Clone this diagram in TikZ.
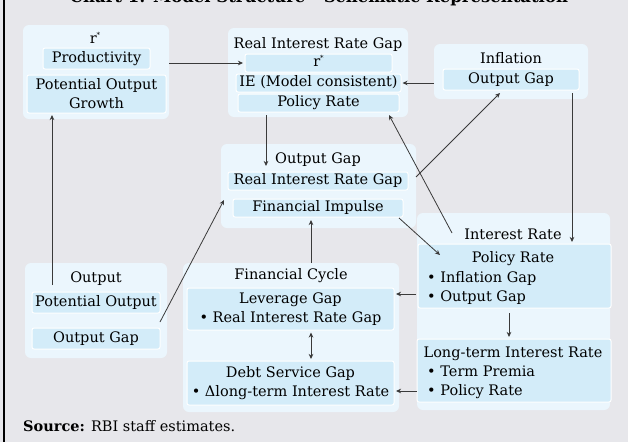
\documentclass[tikz,border=0pt]{standalone}
\usepackage{fontspec}
\setmainfont{DejaVu Serif}
\usetikzlibrary{arrows.meta}
\definecolor{pagebg}{HTML}{E7E7EB}
\definecolor{outerfill}{HTML}{EBF6FD}
\definecolor{innerfill}{HTML}{D3ECF9}
\definecolor{linec}{HTML}{3A3A3A}
\newcommand{\rstar}{r\raisebox{6pt}{\fontsize{7}{7}\selectfont *}}
\tikzset{
  outerbox/.style={fill=outerfill, draw=none, rounded corners=6pt, inner sep=0pt, outer sep=0pt},
  innerbase/.style={fill=innerfill, draw=white, line width=1pt, rounded corners=2pt,
    inner sep=0pt, outer sep=0pt, align=center},
  innerbox/.style={innerbase, text height=10.6pt, text depth=3.4pt},
  innerpair/.style={innerbase},
  lbl/.style={anchor=base, inner sep=0pt},
  lbll/.style={anchor=base west, inner sep=0pt},
  conn/.style={draw=linec, line width=0.8pt, -{Stealth[length=5pt,width=4.5pt,inset=1.5pt]}},
  bothconn/.style={draw=linec, line width=0.8pt, {Stealth[length=5pt,width=4.5pt,inset=1.5pt]}-{Stealth[length=5pt,width=4.5pt,inset=1.5pt]}},
}
\begin{document}
\begin{tikzpicture}[x=1pt, y=-1pt, font=\fontsize{14.5}{19}\selectfont]
\useasboundingbox (0,0) rectangle (628,442);
\clip (0,0) rectangle (628,442);
\fill[pagebg] (0,0) rectangle (628,442);
\draw[line width=1.2pt] (4,0) -- (4,442);

% heading
\node[lbl, font=\bfseries\fontsize{16.5}{20}\selectfont] (title) at (319,2)
  {Chart 1: Model Structure - Schematic Representation};

% group panels
\node[outerbox, minimum width=146pt, minimum height=94pt]  (boxA) at (96,72) {};
\node[outerbox, minimum width=180pt, minimum height=89pt]  (boxB) at (318,72.5) {};
\node[outerbox, minimum width=154pt, minimum height=55pt]  (boxC) at (511,71.5) {};
\node[outerbox, minimum width=195pt, minimum height=84pt]  (boxD) at (318.5,186) {};
\node[outerbox, minimum width=193pt, minimum height=197pt] (boxE) at (513.5,311.5) {};
\node[outerbox, minimum width=142pt, minimum height=95pt]  (boxF) at (96,310.5) {};
\node[outerbox, minimum width=216pt, minimum height=149pt] (boxG) at (291,337.5) {};

% panel headings
\node[lbl] (tA) at (95,43)   {\rstar};
\node[lbl] (tB) at (318,48)  {Real Interest Rate Gap};
\node[lbl] (tC) at (511,63)  {Inflation};
\node[lbl] (tD) at (318,163) {Output Gap};
\node[lbl] (tE) at (513,239) {Interest Rate};
\node[lbl] (tF) at (96,282)  {Output};
\node[lbl] (tG) at (291,279) {Financial Cycle};

% inner entries
\node[innerbox, minimum width=107pt, minimum height=21pt] (prod)  at (96.5,58.5) {Productivity};
\node[innerpair, minimum width=139pt, minimum height=38pt] (potg) at (96.5,94)   {Potential Output\\Growth};
\node[innerbox, minimum width=147pt, minimum height=18pt] (rstar) at (318.5,63)  {\rstar};
\node[innerbox, minimum width=165pt, minimum height=18pt] (ie)    at (318.5,83)  {IE (Model consistent)};
\node[innerbox, minimum width=161pt, minimum height=18pt] (polB)  at (318.5,103) {Policy Rate};
\node[innerbox, minimum width=136pt, minimum height=21pt] (ogC)   at (511,79.5)  {Output Gap};
\node[innerbox, minimum width=180pt, minimum height=18pt] (rirg)  at (318,181)   {Real Interest Rate Gap};
\node[innerbox, minimum width=170pt, minimum height=18pt] (finimp) at (318,208)  {Financial Impulse};
\node[innerbase, minimum width=193pt, minimum height=64pt] (polE) at (514.5,276) {};
\node[innerbase, minimum width=194pt, minimum height=63pt] (ltr)  at (514,370.5) {};
\node[innerbox, minimum width=128pt, minimum height=21pt] (potO)  at (96,302.5)  {Potential Output};
\node[innerbox, minimum width=128pt, minimum height=21pt] (ogF)   at (96,338.5)  {Output Gap};
\node[innerpair, minimum width=207pt, minimum height=42pt] (lev)  at (290.5,309) {Leverage Gap\\• Real Interest Rate Gap};
\node[innerpair, minimum width=207pt, minimum height=44pt] (debt) at (290.5,383) {Debt Service Gap\\• Δlong-term Interest Rate};

% policy rate contents
\node[lbl]  (polEh) at (513,262) {Policy Rate};
\node[lbll] (polE1) at (427,282) {• Inflation Gap};
\node[lbll] (polE2) at (427,301) {• Output Gap};
% long-term rate contents
\node[lbl]  (ltrh) at (513,357) {Long-term Interest Rate};
\node[lbll] (ltr1) at (427,376) {• Term Premia};
\node[lbll] (ltr2) at (427,395) {• Policy Rate};

% source line
\node[lbll] (src) at (23,431) {\textbf{Source:} RBI staff estimates.};

% connector end points
\coordinate (dIn)   at (266,166);
\coordinate (eOut)  at (452,233);
\coordinate (bIn)   at (389,115);
\coordinate (dOut)  at (416,177);
\coordinate (cIn)   at (500,93);
\coordinate (fiOut) at (399,218);
\coordinate (peIn)  at (440,255);
\coordinate (cDown) at (572,93);
\coordinate (fOut)  at (52,285);
\coordinate (ogOut) at (160,322);
\coordinate (dIn2)  at (224,200);

% connectors
\draw[conn, shorten >=2pt] (boxA.east |- rstar.west) -- (rstar.west);
\draw[conn, shorten >=1.5pt] (boxC.west |- ie.east) -- (ie.east);
\draw[conn] (polB.south -| dIn) ++(0,3) -- (dIn);
\draw[conn] (eOut) -- (bIn);
\draw[conn] (dOut) -- (cIn);
\draw[conn] (fiOut) -- (peIn);
\draw[conn, shorten >=2pt] (cDown) -- (cDown |- polE.north);
\draw[conn, shorten <=2pt, shorten >=2pt] (polE.west |- 0,294) -- (lev.east |- 0,294);
\draw[conn, shorten <=5pt, shorten >=2pt] (polE.south -| 509,0) -- (ltr.north -| 509,0);
\draw[conn, shorten >=2pt] (ltr.west |- 0,391) -- (debt.east |- 0,391);
\draw[bothconn, shorten <=2.5pt, shorten >=2pt] (lev.south -| 311,0) -- (debt.north -| 311,0);
\draw[conn, shorten >=3pt] (boxG.north -| 311,0) -- (finimp.south -| 311,0);
\draw[conn, shorten >=2pt] (fOut) -- (potg.south -| fOut);
\draw[conn] (ogOut) -- (dIn2);
\end{tikzpicture}
\end{document}
